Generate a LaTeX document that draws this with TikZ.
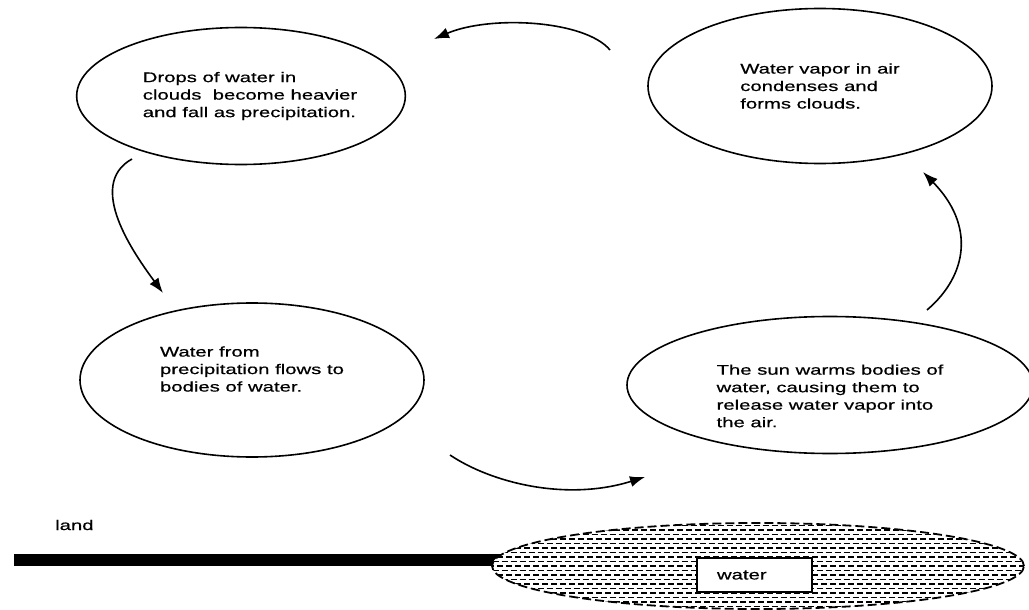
\documentclass[tikz,border=0pt]{standalone}
\usepackage{fontspec}
\setmainfont{Liberation Sans}[FakeStretch=1.45,FakeBold=0.6]
\usetikzlibrary{shapes.geometric,arrows.meta}
\tikzset{
  bubble/.style={draw,ellipse,line width=1.6pt,inner sep=0pt,align=left},
  flow/.style={-{Latex[length=15pt,width=11pt]},line width=1.6pt},
  ripple/.style={line width=1.1pt,dash pattern=on 6pt off 3pt},
}
\begin{document}
\begin{tikzpicture}[x=1pt,y=1pt,font=\fontsize{14pt}{17.5pt}\selectfont]
        \useasboundingbox(0,0)rectangle(1029,-610);
        \node[bubble,minimum width=322,minimum height=137](1)at(241,-96){\hspace*{18pt}Drops of water in\\\hspace*{18pt}clouds~ become heavier\\\hspace*{18pt}and fall as precipitation.};
        \node[bubble,minimum width=344,minimum height=155](2)at(820,-86){Water vapor in air\\condenses and\\forms clouds.};
        \node[bubble,minimum width=344,minimum height=154](3)at(252,-380){Water from\\precipitation flows to\\bodies of water.\rule[-22pt]{0pt}{0pt}};
        \node[bubble,minimum width=406,minimum height=137](4)at(830,-385){\rule{0pt}{32pt}The sun warms bodies of\\water, causing them to\\release water vapor into\\the air.};
        \coordinate(1s)at(132,-159);
        \coordinate(3n)at(163,-293);
        \coordinate(3e)at(450,-455);
        \coordinate(4w)at(645,-477);
        \coordinate(4n)at(927,-310);
        \coordinate(2s)at(923,-172);
        \coordinate(2w)at(610,-50);
        \coordinate(1e)at(434,-39);
        \draw[flow](1s)..controls(85,-185)and(135,-255)..(3n);
        \draw[flow](3e)..controls(490,-482)and(565,-502)..(4w);
        \draw[flow](4n)..controls(968,-275)and(975,-225)..(2s);
        \draw[flow](2w)..controls(585,-20)and(490,-15)..(1e);
        % land and water
        \node[anchor=west,inner sep=0pt](5)at(55,-525){land};
        \draw[line width=12pt](14,-560)--(505,-560);
        \node[ellipse,draw,fill=white,line width=1.8pt,dash pattern=on 9pt off 4pt,minimum width=532,minimum height=86,
            path picture={
                \foreach \y in {-45,-36,...,45}{\draw[ripple](-270,\y)--(270,\y);}
                \foreach \y in {-40.5,-31.5,...,45}{\draw[ripple,dash phase=4.5pt](-270,\y)--(270,\y);}
            }](6)at(758,-566){};
        \node[draw,fill=white,line width=1.5pt,text width=75,inner xsep=20,minimum height=34](7)at(754.5,-575){water};
\end{tikzpicture}
\end{document}
